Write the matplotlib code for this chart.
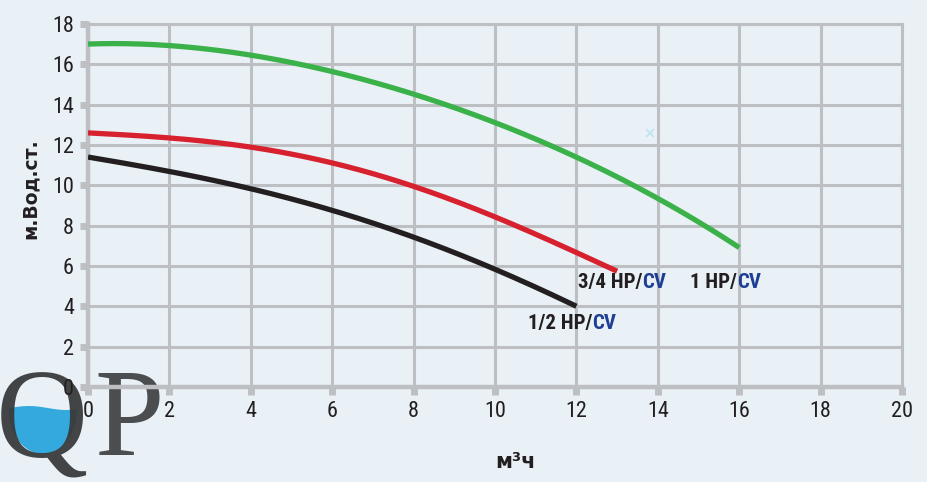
import numpy as np
import matplotlib
matplotlib.use("Agg")
import matplotlib.pyplot as plt
from matplotlib import font_manager as fm
from matplotlib.patches import Polygon

# --- data ---
head_1hp_x = [0, 1, 2, 4, 6, 8, 10, 12, 14, 16]
head_1hp = [17.0, 17.05, 16.9, 16.45, 15.65, 14.55, 13.1, 11.35, 9.4, 6.9]

head_34hp_x = [0, 2, 4, 6, 8, 10, 12, 13]
head_34hp = [12.6, 12.35, 11.9, 11.1, 9.95, 8.45, 6.65, 5.75]

head_12hp_x = [0, 2, 4, 6, 8, 10, 12]
head_12hp = [11.4, 10.7, 9.8, 8.8, 7.4, 5.85, 4.0]

xticks = list(range(0, 21, 2))
yticks = list(range(0, 19, 2))

BG = "#e9f1f7"
GRID = "#bebfc2"
INK = "#231f20"


def weight_num(w):
    if isinstance(w, (int, float)):
        return w
    return {"bold": 700, "semibold": 600, "demibold": 600, "heavy": 800,
            "black": 900, "medium": 500, "light": 300}.get(str(w).lower(), 400)


def narrow_font(bold):
    # look for any installed condensed / narrow sans face
    pref = ["Liberation Sans Narrow", "Roboto Condensed", "Open Sans Condensed",
            "Noto Sans", "Open Sans", "Roboto", "DejaVu Sans"]
    found = []
    for f in fm.fontManager.ttflist:
        st = str(f.stretch).lower()
        if not ("narrow" in f.name.lower() or "condensed" in f.name.lower()
                or "condensed" in st or "narrow" in f.fname.lower()
                or "condensed" in f.fname.lower()):
            continue
        if f.style != "normal" or "semi" in st or "extra" in st or "ultra" in st:
            continue
        w = weight_num(f.weight)
        if bold != (w >= 600):
            continue
        rank = next((i for i, p in enumerate(pref) if f.name.startswith(p)), 99)
        found.append((rank, abs(w - (700 if bold else 400)), f.fname))
    if found:
        found.sort()
        return fm.FontProperties(fname=found[0][2]), True
    return fm.FontProperties(family="DejaVu Sans",
                             weight="bold" if bold else "normal"), False


fp_reg, ok_reg = narrow_font(False)
fp_bold, ok_bold = narrow_font(True)
tick_size = 16 if ok_reg else 13
lab_size = 15 if ok_bold else 12

fig = plt.figure(figsize=(9.28, 4.82), dpi=100, facecolor=BG)
ax = fig.add_axes([88 / 928, 1 - 387 / 482, (902 - 88) / 928, (387 - 24) / 482])
ax.set_zorder(10)
ax.patch.set_alpha(0)

ax.set_xlim(0, 20)
ax.set_ylim(0, 18)
ax.set_xticks(xticks)
ax.set_yticks(yticks)
ax.grid(True, color=GRID, linewidth=2.2, zorder=0)
for s in ax.spines.values():
    s.set_color(GRID)
    s.set_linewidth(2.2)
ax.spines["left"].set_linewidth(3.2)
ax.spines["bottom"].set_linewidth(3.2)
ax.tick_params(axis="both", colors=GRID, length=6, width=5, direction="out",
               labelcolor=INK, pad=4)
for lbl in ax.get_xticklabels() + ax.get_yticklabels():
    lbl.set_fontproperties(fp_reg)
    lbl.set_fontsize(tick_size)


def smooth(xs, ys):
    xs = np.asarray(xs, float)
    ys = np.asarray(ys, float)
    xf = np.linspace(xs[0], xs[-1], 200)
    coef = np.polyfit(xs, ys, min(4, len(xs) - 1))
    return xf, np.polyval(coef, xf)


for xs, ys, col in [(head_1hp_x, head_1hp, "#3bb14a"),
                    (head_34hp_x, head_34hp, "#d7212e"),
                    (head_12hp_x, head_12hp, INK)]:
    xf, yf = smooth(xs, ys)
    ax.plot(xf, yf, color=col, linewidth=3.8, solid_capstyle="butt", zorder=3)


def curve_label(x, y, main):
    t = ax.text(x, y, main, fontproperties=fp_bold, fontsize=lab_size,
                color=INK, ha="left", va="baseline", zorder=4)
    ax.annotate("CV", xy=(1, 0), xycoords=t, fontproperties=fp_bold,
                fontsize=lab_size, color="#1f3f94", ha="left", va="bottom",
                zorder=4)


curve_label(12.04, 4.9, "3/4 HP/")
curve_label(14.79, 4.9, "1 HP/")
curve_label(10.8, 2.88, "1/2 HP/")

ax.plot([13.8], [12.6], marker="x", color="#bfe3f2", markersize=6, mew=1.2, zorder=2)

fig.text(30 / 928, 1 - 189 / 482, "м.Вод.ст.", rotation=90, fontsize=13.5,
         fontweight="bold", color=INK, ha="center", va="center")
fig.text(516 / 928, 1 - 462 / 482, "м³ч", fontsize=15, fontweight="bold",
         color=INK, ha="center", va="center")

# --- QP logo (drawn under the axes) ---
t = np.linspace(np.pi, 2 * np.pi, 60)
cx, cy, a, b = 43, 410, 34, 44
px = cx + a * np.cos(t)
py = cy - b * np.sin(t)
wave_x = np.linspace(px[-1], px[0], 20)
wave_y = 408 - 2 * np.sin((wave_x - 10) / 12)
pts = np.column_stack([np.concatenate([px, wave_x]) / 928,
                       1 - np.concatenate([py, wave_y]) / 482])
fig.patches.append(Polygon(pts, closed=True, transform=fig.transFigure,
                           facecolor="#34a9de", edgecolor="none", zorder=5))
fig.text(-4 / 928, 1 - 457 / 482, "Q", fontsize=92, family="Liberation Serif",
         color="#3a3b3b", alpha=0.95, ha="left", va="baseline", zorder=6)
fig.text(94 / 928, 1 - 455 / 482, "P", fontsize=90, family="Liberation Serif",
         color="#3a3b3b", alpha=0.9, ha="left", va="baseline", zorder=6)

fig.savefig("out.png", dpi=100, facecolor=BG)
